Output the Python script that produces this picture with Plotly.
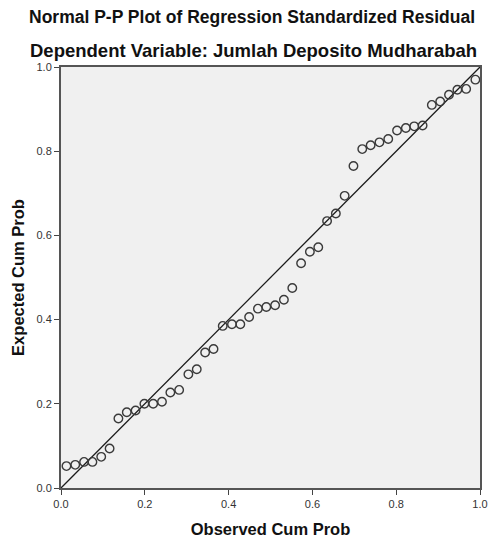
import plotly.graph_objects as go

observed = [0.013, 0.034, 0.055, 0.075, 0.096, 0.116, 0.137, 0.157, 0.178, 0.199,
            0.220, 0.241, 0.261, 0.282, 0.304, 0.324, 0.344, 0.364, 0.386, 0.408,
            0.428, 0.449, 0.470, 0.490, 0.511, 0.532, 0.552, 0.573, 0.594, 0.614,
            0.635, 0.656, 0.677, 0.698, 0.719, 0.739, 0.760, 0.781, 0.802, 0.823,
            0.843, 0.863, 0.885, 0.905, 0.926, 0.946, 0.967, 0.989]
expected = [0.052, 0.055, 0.062, 0.062, 0.074, 0.094, 0.165, 0.180, 0.184, 0.200,
            0.200, 0.205, 0.227, 0.233, 0.270, 0.282, 0.322, 0.330, 0.385, 0.389,
            0.389, 0.406, 0.426, 0.430, 0.434, 0.447, 0.475, 0.534, 0.561, 0.572,
            0.634, 0.652, 0.694, 0.765, 0.805, 0.814, 0.821, 0.829, 0.849, 0.855,
            0.859, 0.861, 0.910, 0.918, 0.934, 0.946, 0.948, 0.970]
diag = [0.0, 1.0]
ticks = [0.0, 0.2, 0.4, 0.6, 0.8, 1.0]
tick_labels = ["0.0", "0.2", "0.4", "0.6", "0.8", "1.0"]

FONT = "Liberation Sans, Arial, sans-serif"

fig = go.Figure()
fig.add_trace(go.Scatter(x=diag, y=diag, mode="lines",
                         line=dict(color="#1a1a1a", width=1.3),
                         hoverinfo="skip", showlegend=False))
fig.add_trace(go.Scatter(x=observed, y=expected, mode="markers",
                         marker=dict(symbol="circle-open", size=8.5,
                                     color="#3a3a3a", line=dict(width=1.4)),
                         showlegend=False))

axis_common = dict(range=[0, 1], tickvals=ticks, ticktext=tick_labels,
                   ticks="outside", ticklen=5, tickwidth=1, tickcolor="#444",
                   showgrid=False, zeroline=False, showline=True,
                   linecolor="#555", linewidth=2, mirror=True, automargin=False,
                   tickfont=dict(family=FONT, size=11, color="#333"))

fig.update_layout(
    width=491, height=542,
    margin=dict(l=61, r=11, t=67, b=54),
    paper_bgcolor="white", plot_bgcolor="#f0f0f0",
    xaxis=dict(**axis_common,
               title=dict(text="<b>Observed Cum Prob</b>", standoff=14,
                          font=dict(family=FONT, size=16.5, color="#111"))),
    yaxis=dict(**axis_common,
               title=dict(text="<b>Expected Cum Prob</b>", standoff=8,
                          font=dict(family=FONT, size=16.5, color="#111"))),
    annotations=[
        dict(text="<b>Normal P-P Plot of Regression Standardized Residual</b>",
             x=0.455, xref="paper", y=1, yref="paper", yanchor="middle",
             yshift=50, showarrow=False, xanchor="center",
             font=dict(family=FONT, size=17.5, color="#111")),
        dict(text="<b>Dependent Variable: Jumlah Deposito Mudharabah</b>",
             x=0.46, xref="paper", y=1, yref="paper", yanchor="middle",
             yshift=17, showarrow=False, xanchor="center",
             font=dict(family=FONT, size=18.5, color="#111")),
    ],
)

fig.write_html("out.html",
               config={"displayModeBar": False},
               post_script="document.body.style.margin='0';document.body.style.padding='0';")
